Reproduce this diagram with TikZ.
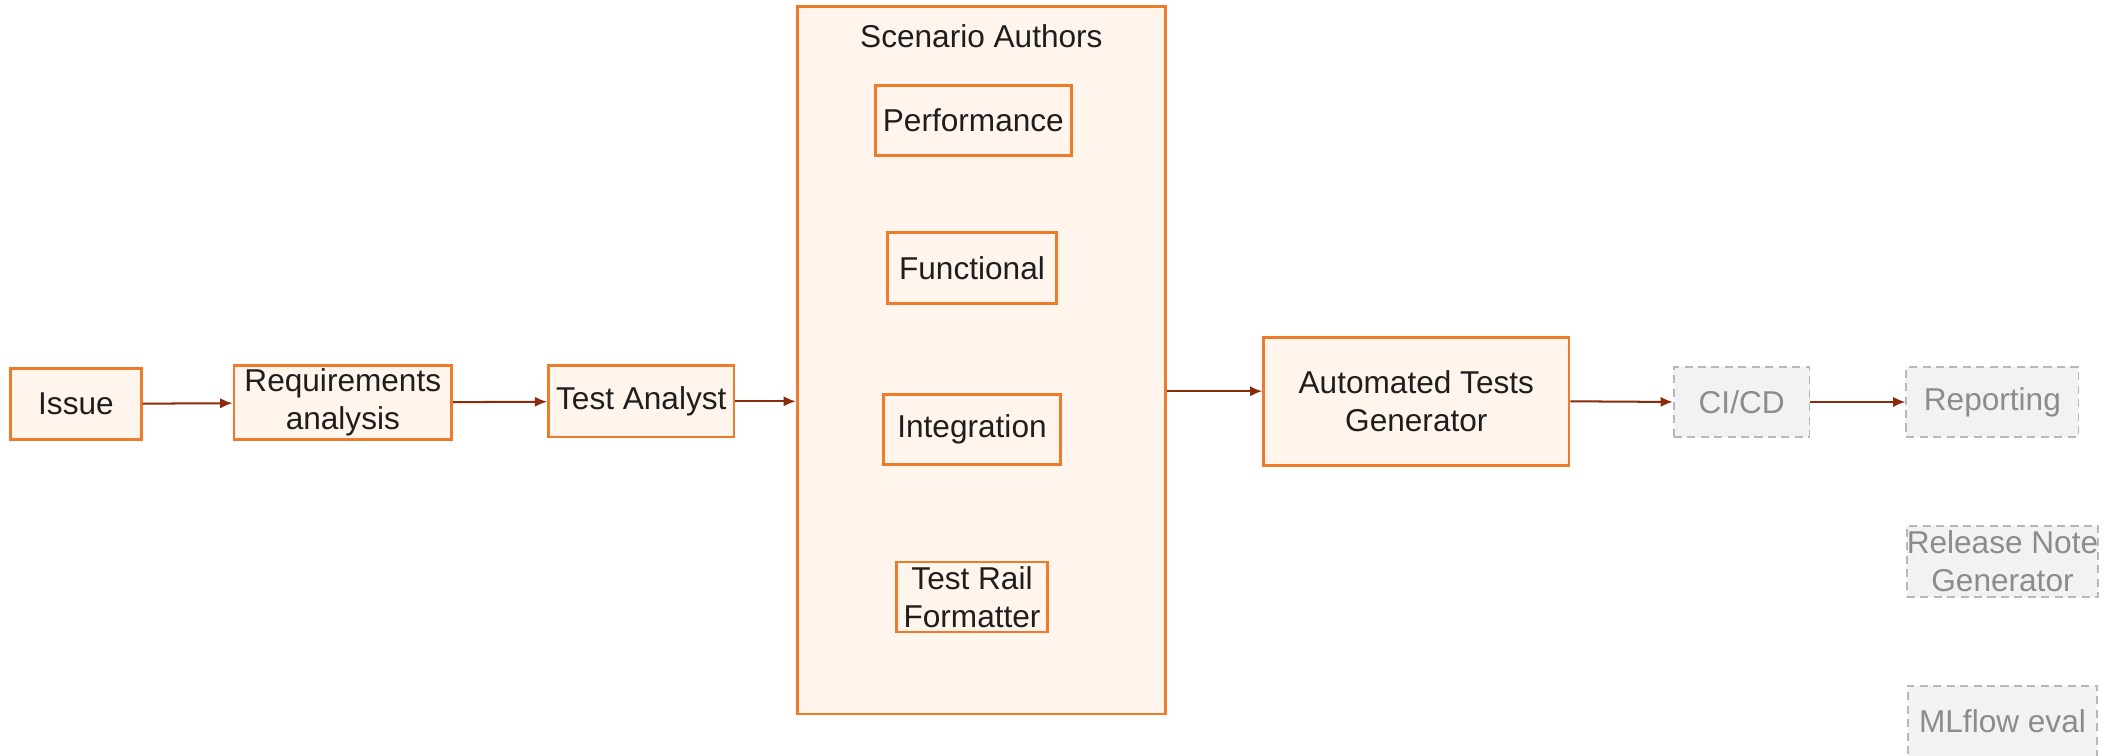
\documentclass[tikz,border=0pt]{standalone}
\usepackage{fontspec}
\setmainfont{Liberation Sans}
\usetikzlibrary{arrows.meta}
\definecolor{orangeB}{HTML}{EE7B2A}
\definecolor{orangeF}{HTML}{FFF5EC}
\definecolor{arrowC}{HTML}{8A2B0A}
\definecolor{grayB}{HTML}{B8B8B8}
\definecolor{grayF}{HTML}{F2F2F2}
\definecolor{grayT}{HTML}{8C8C8C}
\definecolor{txt}{HTML}{1E1E1E}
\begin{document}
\begin{tikzpicture}[x=0.5pt,y=-0.5pt,
  lbl/.style={font=\fontsize{11.75}{14}\selectfont, align=center, inner sep=0pt},
  sz/.style 2 args={minimum width=#1*0.5pt, minimum height=#2*0.5pt},
  box/.style={lbl, draw=orangeB, fill=orangeF, line width=1pt, text=txt},
  gbox/.style={lbl, draw=grayB, fill=grayF, dash pattern=on 3pt off 2pt, line width=0.65pt, text=grayT},
  arr/.style={draw=arrowC, line width=0.75pt, -{Latex[length=4.6pt,width=3.8pt]}}]
\clip (0,0) rectangle (1568,561.6);
\fill[white] (0,0) rectangle (1568,561.6);
\node[box, sz={97}{53}] (issue) at (56.5,300.5) {Issue};
\node[box, sz={162}{55}] (req) at (255,299.5) {Requirements\\analysis};
\node[box, sz={138}{53}] (ta) at (477,298.5) {Test Analyst};
\node[box, sz={274}{526}] (sc) at (730,268) {};
\node[lbl, text=txt] (sct) at (730,27) {Scenario Authors};
\node[box, sz={146}{52}] (perf) at (724,89.5) {Performance};
\node[box, sz={126}{53}] (func) at (723,199.5) {Functional};
\node[box, sz={132}{52}] (integ) at (723,319.5) {Integration};
\node[box, sz={112}{52}] (trf) at (723,444) {Test Rail\\Formatter};
\node[box, sz={227}{95}] (atg) at (1053.5,298.5) {Automated Tests\\Generator};
\node[gbox, sz={101}{52}] (cicd) at (1295.5,299) {CI/CD};
\node[gbox, sz={128}{52}] (rep) at (1482,299) {Reporting};
\node[gbox, sz={141}{53}] (rng) at (1489.5,417.5) {Release Note\\Generator};
\node[gbox, sz={141}{53}] (ml) at (1489.5,536.5) {MLflow eval};
\coordinate (atgin) at ([yshift=3.75pt]atg.west);
\draw[arr] (issue) -- (req);
\draw[arr] (req) -- (ta);
\draw[arr] (ta) -- (sc.west |- ta);
\draw[arr] (sc.east |- atgin) -- (atgin);
\draw[arr] (atg.east) -- (cicd.west);
\draw[arr] (cicd) -- (rep);
\end{tikzpicture}
\end{document}
